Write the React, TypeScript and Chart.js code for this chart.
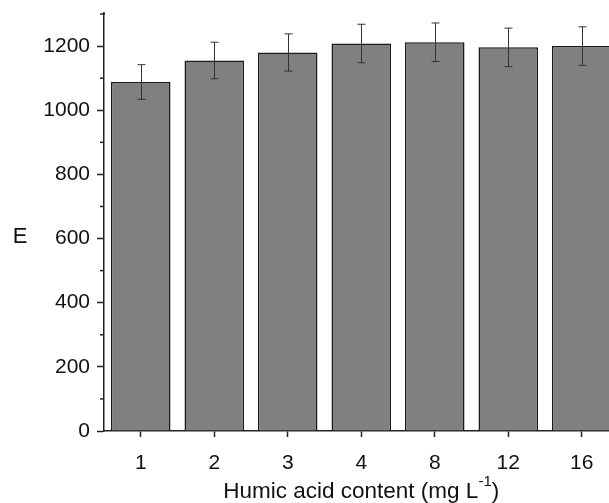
import React, { useEffect, useRef } from "react";
import { Chart, registerables } from "chart.js";

Chart.register(...registerables);

const categories = ["1", "2", "3", "4", "8", "12", "16"];
const meanValues = [1088, 1155, 1180, 1208, 1212, 1196, 1200];
const errorValues = [54, 57, 58, 60, 60, 60, 60];
const yMinorTicks = [100, 300, 500, 700, 900, 1100, 1300];
const yAxisTitle = "E";
const xAxisTitle = "Humic acid content (mg L";
const xAxisSup = "-1";
const xAxisEnd = ")";

const FONT = "'Liberation Sans', Arial, sans-serif";
const AXIS_COLOR = "#222222";

const errorBarPlugin = {
  id: "errorBars",
  afterDatasetsDraw(chart: any) {
    const meta = chart.getDatasetMeta(0);
    const ys = chart.scales.y;
    const ctx = chart.ctx;
    ctx.save();
    ctx.strokeStyle = "#333333";
    ctx.lineWidth = 1;
    meta.data.forEach((bar: any, i: number) => {
      const x = Math.round(bar.x) + 0.5;
      const top = ys.getPixelForValue(meanValues[i] + errorValues[i]);
      const bot = ys.getPixelForValue(meanValues[i] - errorValues[i]);
      ctx.beginPath();
      ctx.moveTo(x, top);
      ctx.lineTo(x, bot);
      ctx.moveTo(x - 4, top);
      ctx.lineTo(x + 4, top);
      ctx.moveTo(x - 4, bot);
      ctx.lineTo(x + 4, bot);
      ctx.stroke();
    });
    ctx.restore();
  },
};

const decorPlugin = {
  id: "decor",
  afterDraw(chart: any) {
    const ctx = chart.ctx;
    const ys = chart.scales.y;
    const area = chart.chartArea;
    ctx.save();
    ctx.strokeStyle = AXIS_COLOR;
    ctx.lineWidth = 1.5;
    // small extension of the y axis line above the top
    ctx.beginPath();
    ctx.moveTo(area.left, area.top - 2);
    ctx.lineTo(area.left, area.top + 1);
    ctx.stroke();
    yMinorTicks.forEach((v) => {
      const py = ys.getPixelForValue(v);
      ctx.beginPath();
      ctx.moveTo(area.left - 4, py);
      ctx.lineTo(area.left, py);
      ctx.stroke();
    });
    ctx.fillStyle = "#111111";
    ctx.font = `22px ${FONT}`;
    ctx.textAlign = "center";
    ctx.textBaseline = "alphabetic";
    ctx.fillText(yAxisTitle, 20, 243);
    const mainFont = `22.5px ${FONT}`;
    const supFont = `15px ${FONT}`;
    ctx.font = mainFont;
    const w1 = ctx.measureText(xAxisTitle).width;
    const w3 = ctx.measureText(xAxisEnd).width;
    ctx.font = supFont;
    const w2 = ctx.measureText(xAxisSup).width;
    const total = w1 + w2 + w3;
    const cx = (area.left + area.right) / 2;
    let x = cx - total / 2;
    const base = 498;
    ctx.textAlign = "left";
    ctx.font = mainFont;
    ctx.fillText(xAxisTitle, x, base);
    x += w1;
    ctx.font = supFont;
    ctx.fillText(xAxisSup, x, base - 12);
    x += w2;
    ctx.font = mainFont;
    ctx.fillText(xAxisEnd, x, base);
    ctx.restore();
  },
};

export default function App() {
  const canvasRef = useRef<HTMLCanvasElement | null>(null);

  useEffect(() => {
    const canvas = canvasRef.current;
    if (!canvas) return;
    const chart = new Chart(canvas, {
      type: "bar",
      data: {
        labels: categories,
        datasets: [
          {
            data: meanValues,
            backgroundColor: "#808080",
            borderColor: "#1a1a1a",
            borderWidth: 1.5,
            barPercentage: 0.81,
            categoryPercentage: 1,
          },
        ],
      },
      options: {
        responsive: false,
        animation: false,
        devicePixelRatio: 1,
        layout: { padding: { top: 14, right: 21.5, left: 0, bottom: 0 } },
        plugins: {
          legend: { display: false },
          tooltip: { enabled: false },
          title: { display: false },
        },
        scales: {
          x: {
            type: "category",
            offset: true,
            grid: {
              offset: false,
              drawOnChartArea: false,
              drawTicks: true,
              tickLength: 6,
              tickColor: AXIS_COLOR,
              tickWidth: 1.5,
            },
            border: { display: true, color: AXIS_COLOR, width: 1.5 },
            ticks: {
              color: "#111111",
              font: { family: FONT, size: 21 },
              padding: 14,
              maxRotation: 0,
            },
            afterFit: (scale: any) => {
              scale.height = 72;
              scale.paddingLeft = 0;
              scale.paddingRight = 0;
            },
          },
          y: {
            min: 0,
            max: 1300,
            grid: {
              drawOnChartArea: false,
              drawTicks: true,
              tickLength: 7,
              tickColor: AXIS_COLOR,
              tickWidth: 1.5,
            },
            border: { display: true, color: AXIS_COLOR, width: 1.5 },
            ticks: {
              stepSize: 200,
              includeBounds: false,
              color: "#111111",
              font: { family: FONT, size: 21 },
              padding: 7,
              callback: (v: any) => String(v),
            },
            afterFit: (scale: any) => {
              scale.width = 104;
              scale.paddingTop = 0;
              scale.paddingBottom = 0;
            },
          },
        },
      },
      plugins: [errorBarPlugin, decorPlugin],
    });
    return () => chart.destroy();
  }, []);

  return (
    <div
      style={{
        position: "fixed",
        left: 0,
        top: 0,
        width: 609,
        height: 503,
        overflow: "hidden",
        background: "#ffffff",
      }}
    >
      <canvas
        ref={canvasRef}
        width={640}
        height={503}
        style={{ width: 640, height: 503, display: "block" }}
      />
    </div>
  );
}
